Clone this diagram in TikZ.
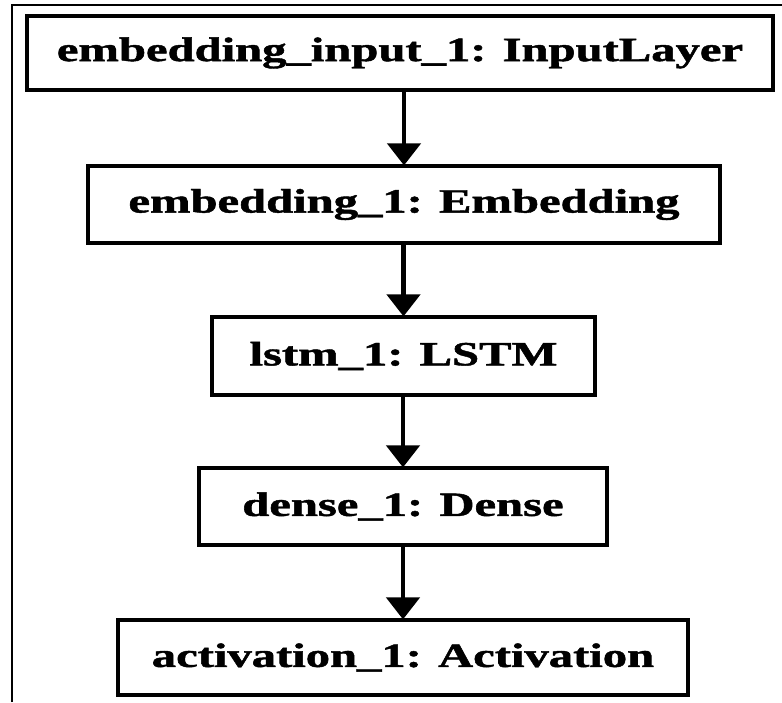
\documentclass[tikz,border=0pt]{standalone}
\usepackage{fontspec}
\setmainfont{Liberation Serif}[BoldFeatures={FakeBold=1.2}]
\usetikzlibrary{arrows.meta}
\tikzset{
  layer/.style={draw=black, line width=3.2pt, fill=white, inner sep=0pt,
    font=\fontsize{34}{40}\selectfont\bfseries},
  flow/.style={line width=4.5pt, -{Triangle[width=33pt,length=22pt]}, shorten >=-1pt},
  frame/.style={line width=2pt}
}
\newcommand{\wide}[1]{\scalebox{1.43}[1]{#1}}
\begin{document}
\begin{tikzpicture}[x=1pt,y=-1pt]
  \useasboundingbox (0,0) rectangle (782,702);
  % partial outer frame
  \coordinate (fbl) at (12,702);
  \coordinate (ftl) at (12,5);
  \coordinate (ftr) at (782,5);
  \draw[frame] (fbl) -- (ftl) -- (ftr);
  % layers
  \node[layer, minimum width=746pt, minimum height=74pt] (inp) at (400,53)
    {\wide{embedding\_input\_1: InputLayer}};
  \node[layer, minimum width=632pt, minimum height=77pt] (emb) at (404,204.5)
    {\wide{embedding\_1: Embedding}};
  \node[layer, minimum width=383pt, minimum height=78pt] (lstm) at (403.5,356)
    {\wide{lstm\_1: LSTM}};
  \node[layer, minimum width=408pt, minimum height=77pt] (dense) at (403,506.5)
    {\wide{dense\_1: Dense}};
  \node[layer, minimum width=570pt, minimum height=75pt] (act) at (403,657.5)
    {\wide{activation\_1: Activation}};
  % connectors
  \draw[flow] (inp.south -| emb.north) -- (emb.north);
  \draw[flow] (emb.south -| lstm.north) -- (lstm.north);
  \draw[flow] (lstm.south -| dense.north) -- (dense.north);
  \draw[flow] (dense.south -| act.north) -- (act.north);
\end{tikzpicture}
\end{document}
